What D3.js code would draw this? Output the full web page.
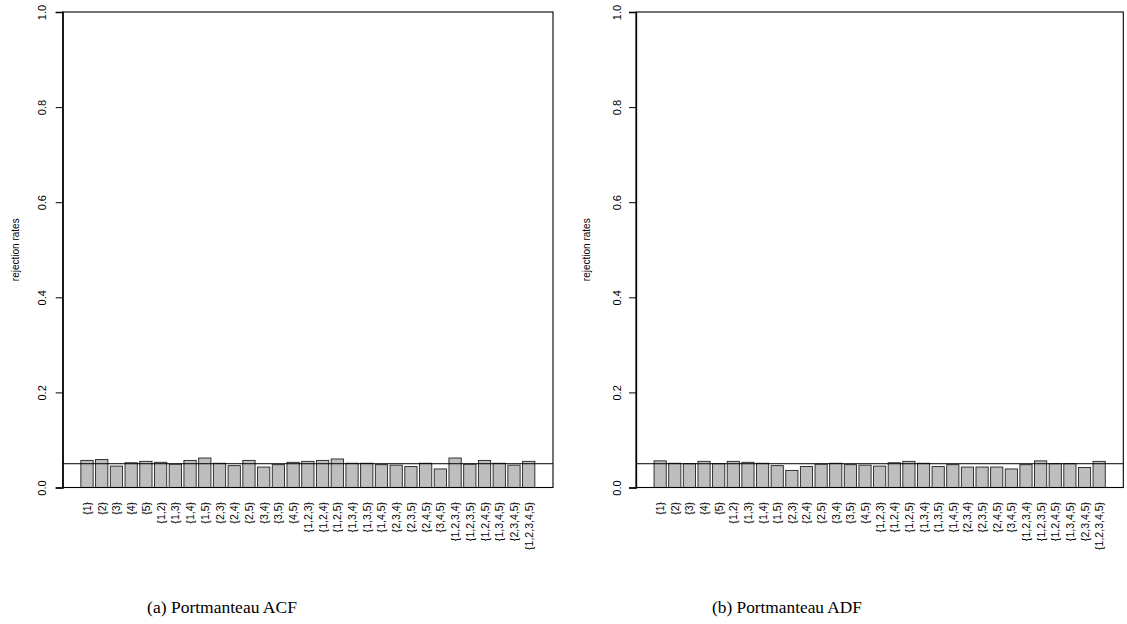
<!DOCTYPE html>
<html>
<head>
<meta charset="utf-8">
<script src="https://cdn.jsdelivr.net/npm/d3@7"></script>
<style>
  html, body { margin: 0; padding: 0; background: #fff; }
  svg { display: block; }
</style>
</head>
<body>
<svg id="chart" width="1127" height="624"></svg>
<script>
// Subsets of lags tested
const categories = ["{1}","{2}","{3}","{4}","{5}",
  "{1,2}","{1,3}","{1,4}","{1,5}","{2,3}","{2,4}","{2,5}","{3,4}","{3,5}","{4,5}",
  "{1,2,3}","{1,2,4}","{1,2,5}","{1,3,4}","{1,3,5}","{1,4,5}","{2,3,4}","{2,3,5}","{2,4,5}","{3,4,5}",
  "{1,2,3,4}","{1,2,3,5}","{1,2,4,5}","{1,3,4,5}","{2,3,4,5}","{1,2,3,4,5}"];

// Rejection rates, portmanteau test on ACF
const acfRates = [0.057,0.059,0.045,0.052,0.055,
  0.053,0.049,0.057,0.062,0.051,0.046,0.057,0.043,0.048,0.053,
  0.055,0.057,0.060,0.051,0.051,0.048,0.047,0.044,0.051,0.039,
  0.062,0.049,0.057,0.051,0.047,0.055];

// Rejection rates, portmanteau test on ADF
const adfRates = [0.056,0.051,0.050,0.055,0.050,
  0.055,0.053,0.051,0.046,0.036,0.044,0.049,0.051,0.048,0.047,
  0.045,0.052,0.055,0.051,0.044,0.048,0.043,0.043,0.043,0.039,
  0.048,0.056,0.050,0.050,0.042,0.055];

const yTicks = [0, 0.2, 0.4, 0.6, 0.8, 1.0];
const nominalLevel = 0.05;
const captions = ["(a)  Portmanteau ACF", "(b)  Portmanteau ADF"];

const svg = d3.select("#chart");

const panels = [
  { values: acfRates, left: 62.7, right: 553, yLabelX: 15, tickLabelX: 42, caption: captions[0], capX: 222 },
  { values: adfRates, left: 636, right: 1123.3, yLabelX: 586, tickLabelX: 617, caption: captions[1], capX: 787 }
];

const plotTop = 12, plotBottom = 487.5;
const barW = 1, space = 0.2;
const n = categories.length;
const lo = space, hi = n * (barW + space);
const pad = 0.04 * (hi - lo);

panels.forEach(p => {
  const g = svg.append("g");
  const x = d3.scaleLinear().domain([lo - pad, hi + pad]).range([p.left, p.right]);
  const y = d3.scaleLinear().domain([0, 1]).range([plotBottom, plotTop]);
  const barLeft = i => space + i * (barW + space);

  // bars
  g.selectAll("rect.bar")
    .data(p.values)
    .enter().append("rect")
    .attr("class", "bar")
    .attr("x", (d, i) => x(barLeft(i)))
    .attr("width", (d, i) => x(barLeft(i) + barW) - x(barLeft(i)))
    .attr("y", d => y(d))
    .attr("height", d => y(0) - y(d))
    .attr("fill", "#bebebe")
    .attr("stroke", "#222")
    .attr("stroke-width", 0.9);

  // nominal level
  g.append("line")
    .attr("x1", p.left).attr("x2", p.right)
    .attr("y1", y(nominalLevel)).attr("y2", y(nominalLevel))
    .attr("stroke", "#000").attr("stroke-width", 1);

  // box
  g.append("rect")
    .attr("x", p.left).attr("y", plotTop)
    .attr("width", p.right - p.left).attr("height", plotBottom - plotTop)
    .attr("fill", "none").attr("stroke", "#000").attr("stroke-width", 1.1);

  // y axis
  const yAxis = d3.axisLeft(y).tickValues(yTicks).tickSize(7).tickFormat(d3.format(".1f"));
  const ax = g.append("g").attr("transform", `translate(${p.left},0)`).call(yAxis);
  ax.select(".domain").attr("stroke", "#000").attr("stroke-width", 1.3);
  ax.selectAll(".tick line").attr("stroke", "#000");
  ax.selectAll(".tick text")
    .attr("x", 0).attr("y", 0).attr("dy", null)
    .attr("transform", `translate(${p.tickLabelX - p.left + 4},0) rotate(-90)`)
    .attr("text-anchor", "middle")
    .style("font-family", "'Liberation Sans', Arial, sans-serif")
    .style("font-size", "11px")
    .attr("fill", "#000");

  // y label
  g.append("text")
    .attr("transform", `translate(${p.yLabelX + 4},${(plotTop + plotBottom) / 2}) rotate(-90)`)
    .attr("text-anchor", "middle")
    .style("font-family", "'Liberation Sans', Arial, sans-serif")
    .style("font-size", "10px")
    .text("rejection rates");

  // category labels
  g.selectAll("text.cat")
    .data(categories)
    .enter().append("text")
    .attr("class", "cat")
    .attr("transform", (d, i) => `translate(${x(barLeft(i) + barW / 2) + 4},502) rotate(-90)`)
    .attr("text-anchor", "end")
    .style("font-family", "'Liberation Sans', Arial, sans-serif")
    .style("font-size", "10.5px")
    .text(d => d);

  // caption, sized to span 150px
  const cap = g.append("text")
    .attr("x", p.capX).attr("y", 613)
    .attr("text-anchor", "middle")
    .style("font-family", "'Liberation Serif', 'DejaVu Serif', serif")
    .style("font-size", "16px")
    .text(p.caption);
  const w = cap.node().getComputedTextLength();
  cap.style("font-size", (16 * 150 / w).toFixed(2) + "px");
});
</script>
</body>
</html>
